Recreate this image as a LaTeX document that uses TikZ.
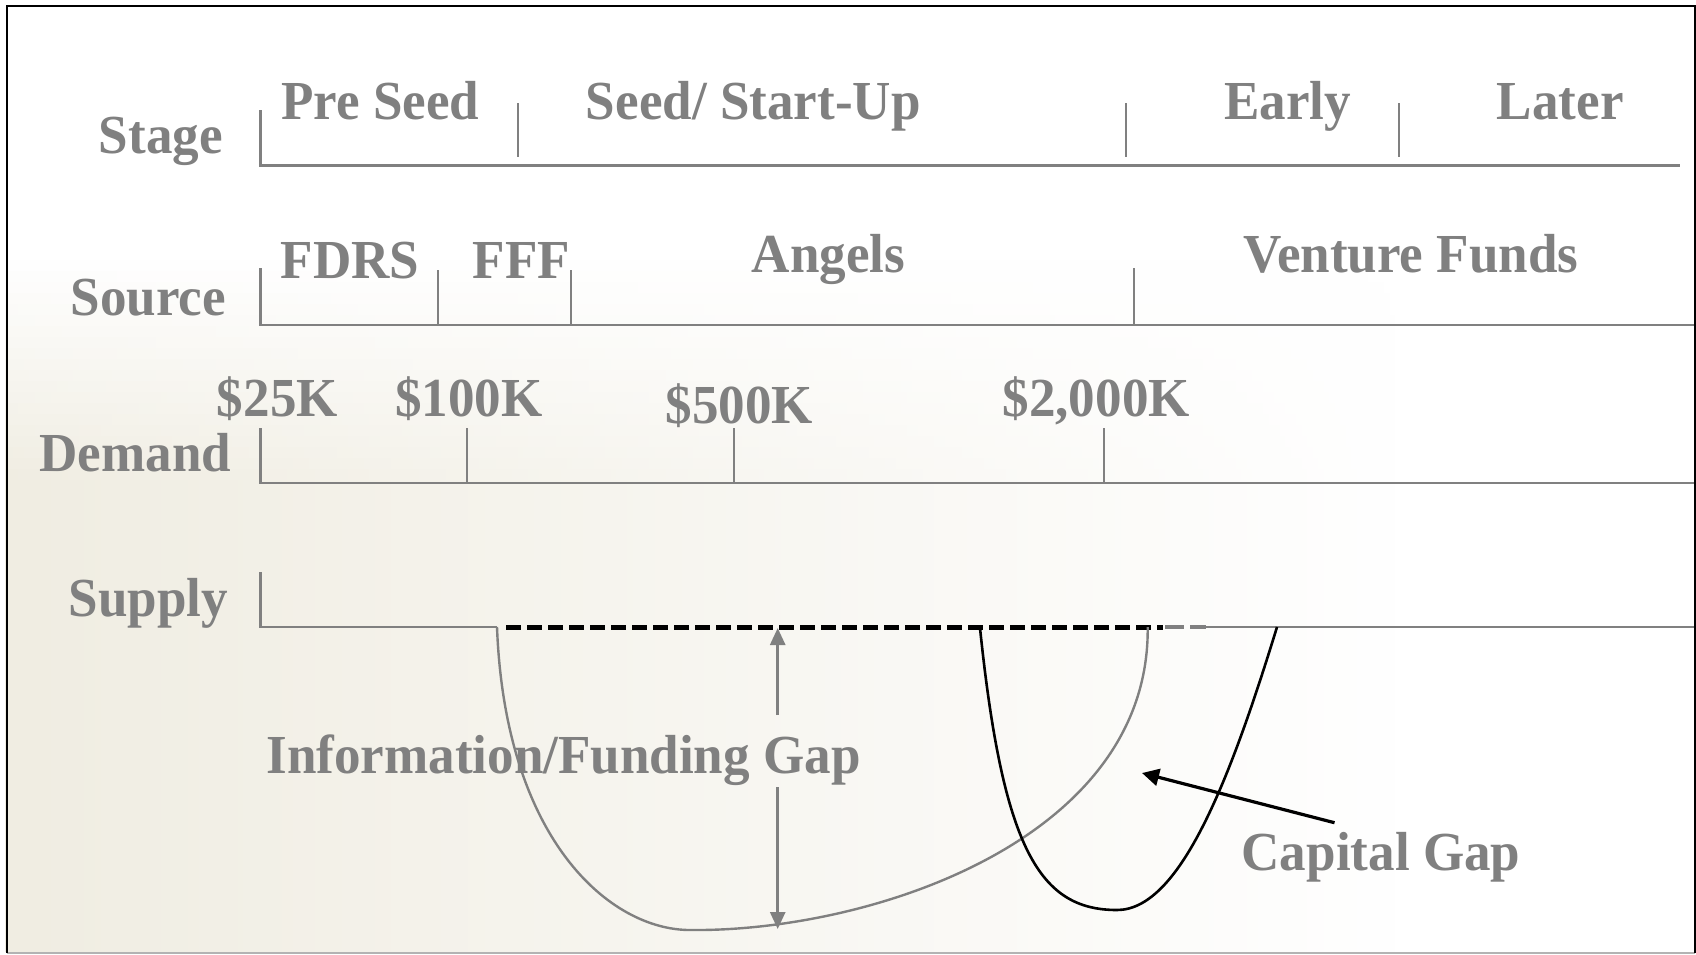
\documentclass[tikz,border=0pt]{standalone}
\usepackage{fontspec}
\setmainfont{Liberation Serif}[FakeStretch=0.965]
\usetikzlibrary{arrows.meta,fadings}
\definecolor{labelgray}{RGB}{128,128,128}
\definecolor{rulegray}{RGB}{128,128,128}
\definecolor{paper}{RGB}{240,237,226}

\begin{document}
\begin{tikzpicture}[x=1pt,y=-1pt,
  lbl/.style={text=labelgray,font=\fontsize{55}{60}\selectfont\bfseries,inner sep=0pt},
  rowlbl/.style={lbl,anchor=base east},
  collbl/.style={lbl,anchor=base},
  axis/.style={draw=rulegray,line width=2.5pt,line join=miter},
  divider/.style={draw=rulegray,line width=2pt},
  gapcurve/.style={draw=rulegray,line width=2.4pt},
  capcurve/.style={draw=black,line width=2.6pt},
  gaparrow/.style={draw=rulegray,line width=2.8pt,-{Triangle[length=17pt,width=15pt]}},
  caparrow/.style={draw=black,line width=3.2pt,-{Triangle[length=17pt,width=17pt]}},
  blackdash/.style={draw=black,line width=5pt,dash pattern=on 15pt off 6pt},
  graydash/.style={draw=rulegray,line width=3.5pt,dash pattern=on 19pt off 6pt}]
\useasboundingbox (0,0) rectangle (1696,954);

% paper background: beige on the left, fading out to the right and upwards
\fill[white] (0,0) rectangle (1696,954);
\foreach \i in {0,...,19}{
  \fill[paper,path fading=east,fill opacity={(\i+0.5)/20}]
    (7,{260+\i*11}) rectangle (1400,{260+(\i+1)*11});
}
\fill[paper,path fading=east] (7,480) rectangle (1400,952);

% frame
\draw[rulegray!60,line width=2pt] (7,952.5) -- (1695,952.5);
\draw[black,line width=2.5pt] (7,953) -- (7,6.2) -- (1695,6.2) -- (1695,953);

% ---- Stage row
\node[rowlbl] (stage) at (223,153) {Stage};
\draw[axis] (260.7,110) -- (260.7,165.5) -- (1680,165.5);
\draw[divider] (518,103) -- (518,157);
\draw[divider] (1126,103) -- (1126,157);
\draw[divider] (1398.5,103) -- (1398.5,157);
\node[collbl] (preseed) at (380.2,119) {Pre Seed};
\node[collbl] (seed) at (753.3,119) {Seed/ Start-Up};
\node[collbl] (early) at (1287.6,119) {Early};
\node[collbl] (later) at (1560.2,119) {Later};

% ---- Source row
\node[rowlbl] (source) at (226,315) {Source};
\draw[axis] (260.7,268) -- (260.7,325) -- (1694,325);
\draw[divider] (438,270) -- (438,325);
\draw[divider] (571,270) -- (571,325);
\draw[divider] (1134,268) -- (1134,325);
\node[collbl] (fdrs) at (349.9,278) {FDRS};
\node[collbl] (fff) at (521.3,278) {FFF};
\node[collbl] (angels) at (828.5,272.6) {Angels};
\node[collbl] (venture) at (1411,272) {Venture Funds};

% ---- Demand row
\node[rowlbl] (demand) at (231.5,471.6) {Demand};
\draw[axis] (260.7,428) -- (260.7,483) -- (1694,483);
\draw[divider] (467.3,428) -- (467.3,483);
\draw[divider] (734.4,428) -- (734.4,483);
\draw[divider] (1104.3,428) -- (1104.3,483);
\node[collbl] (k25) at (277.4,416.4) {\$25K};
\node[collbl] (k100) at (468.9,416.4) {\$100K};
\node[collbl] (k500) at (739.3,423) {\$500K};
\node[collbl] (k2000) at (1096.2,416.4) {\$2,000K};

% ---- Supply row
\node[rowlbl] (supply) at (228.2,616.5) {Supply};
\draw[axis] (260.7,572) -- (260.7,627) -- (497,627);
\draw[axis] (1206,627) -- (1694,627);
\draw[blackdash] (506,627) -- (1163,627);
\draw[graydash] (1165,627) -- (1206,627);

% information / funding gap curve
\draw[gapcurve] (497,627) .. controls (505,840) and (610,930) .. (690,930)
  .. controls (870,932) and (1150,840) .. (1147.7,627);
% capital gap curve
\draw[capcurve] (980,628) .. controls (1003,850) and (1040,910) .. (1117,910)
  .. controls (1180,910) and (1230,780) .. (1277,627);

% gap labels and arrows
\node[collbl] (infogap) at (563.5,773) {Information/Funding Gap};
\coordinate (upfoot) at (777.7,715);
\coordinate (uptip) at (777.7,628);
\coordinate (downfoot) at (777.7,787);
\coordinate (downtip) at (777.7,929);
\draw[gaparrow] (upfoot) -- (uptip);
\draw[gaparrow] (downfoot) -- (downtip);

\node[collbl] (capgap) at (1381,870) {Capital Gap};
\coordinate (captail) at (1334.5,822.7);
\coordinate (captip) at (1142,773);
\draw[caparrow] (captail) -- (captip);
\end{tikzpicture}
\end{document}
